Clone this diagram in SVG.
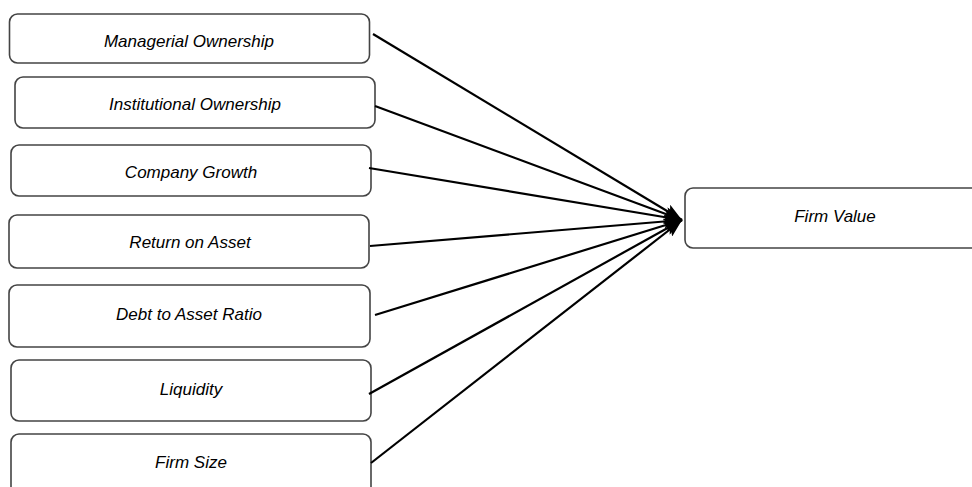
<svg xmlns="http://www.w3.org/2000/svg" width="972" height="487" viewBox="0 0 972 487">
<style>
.box{fill:#fff;stroke:#444;stroke-width:1.6}
.lbl{font-family:"Liberation Sans",Arial,sans-serif;font-style:italic;font-size:17px;fill:#000;text-anchor:middle}
.edge{stroke:#000;stroke-width:2.2;fill:none;marker-end:url(#ah)}
</style>
<defs>
<marker id="ah" markerUnits="userSpaceOnUse" markerWidth="19" markerHeight="14" refX="18" refY="7" orient="auto">
<path d="M0,0 L18,7 L0,14 L4,7 Z" fill="#000"/>
</marker>
</defs>
<rect width="972" height="487" fill="#fff"/>
<g id="n1"><rect class="box" x="9.5" y="14" width="360" height="49" rx="8"/><text class="lbl" x="189" y="47">Managerial Ownership</text></g>
<g id="n2"><rect class="box" x="15" y="77" width="360" height="51" rx="8"/><text class="lbl" x="195" y="110">Institutional Ownership</text></g>
<g id="n3"><rect class="box" x="11" y="145" width="360" height="51" rx="8"/><text class="lbl" x="191" y="178">Company Growth</text></g>
<g id="n4"><rect class="box" x="9" y="215" width="360" height="53" rx="8"/><text class="lbl" x="190" y="248">Return on Asset</text></g>
<g id="n5"><rect class="box" x="9" y="285" width="361" height="62" rx="8"/><text class="lbl" x="189" y="320">Debt to Asset Ratio</text></g>
<g id="n6"><rect class="box" x="11" y="360" width="360" height="61" rx="8"/><text class="lbl" x="191" y="395">Liquidity</text></g>
<g id="n7"><rect class="box" x="11" y="434" width="360" height="62" rx="8"/><text class="lbl" x="191" y="468">Firm Size</text></g>
<g id="n8"><rect class="box" x="685" y="188" width="300" height="60" rx="8"/><text class="lbl" x="835" y="222">Firm Value</text></g>
<g id="edges">
<line class="edge" x1="373" y1="34" x2="682" y2="220"/>
<line class="edge" x1="375" y1="106" x2="682" y2="220"/>
<line class="edge" x1="369" y1="168" x2="682" y2="220"/>
<line class="edge" x1="370" y1="246" x2="682" y2="220"/>
<line class="edge" x1="375" y1="315" x2="682" y2="220"/>
<line class="edge" x1="369" y1="394" x2="682" y2="220"/>
<line class="edge" x1="371" y1="463" x2="682" y2="220"/>
</g>
</svg>
